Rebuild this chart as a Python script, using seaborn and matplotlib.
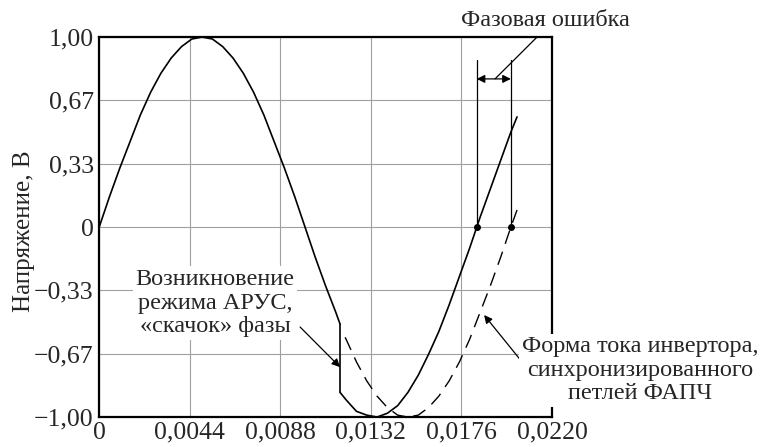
import matplotlib
matplotlib.use("Agg")
import matplotlib.pyplot as plt
import seaborn as sns

# values (time in s, voltage in V)
t_before = [0.0, 0.0005, 0.0010, 0.0015, 0.0020, 0.0025, 0.0030, 0.0035, 0.0040, 0.0045,
            0.0050, 0.0055, 0.0060, 0.0065, 0.0070, 0.0075, 0.0080, 0.0085, 0.0090, 0.0095,
            0.0100, 0.0105, 0.0110, 0.0115, 0.0117]
v_before = [0.0, 0.16, 0.31, 0.45, 0.59, 0.71, 0.81, 0.89, 0.95, 0.99,
            1.00, 0.99, 0.95, 0.89, 0.81, 0.71, 0.59, 0.45, 0.31, 0.16,
            0.0, -0.16, -0.31, -0.45, -0.51]
t_after = [0.0117, 0.0120, 0.0125, 0.0130, 0.0135, 0.0140, 0.0145, 0.0150, 0.0155, 0.0160,
           0.0165, 0.0170, 0.0175, 0.0180, 0.0185, 0.0190, 0.0195, 0.0200, 0.0203]
v_after = [-0.87, -0.91, -0.97, -0.99, -1.00, -0.98, -0.94, -0.87, -0.78, -0.67,
           -0.55, -0.41, -0.26, -0.11, 0.05, 0.20, 0.35, 0.50, 0.58]
t_pll = [0.01195, 0.0125, 0.0130, 0.0135, 0.0140, 0.0145, 0.0150, 0.0155, 0.0160, 0.0165,
         0.0170, 0.0175, 0.0180, 0.0185, 0.0190, 0.0195, 0.0200, 0.0203]
v_pll = [-0.58, -0.71, -0.81, -0.89, -0.95, -0.99, -1.00, -0.99, -0.95, -0.89,
         -0.81, -0.71, -0.59, -0.45, -0.31, -0.16, 0.0, 0.09]

x_ticks = [0, 0.0044, 0.0088, 0.0132, 0.0176, 0.0220]
x_labels = ["0", "0,0044", "0,0088", "0,0132", "0,0176", "0,0220"]
y_ticks = [-1.0, -2 / 3, -1 / 3, 0, 1 / 3, 2 / 3, 1.0]
y_labels = ["\u22121,00", "\u22120,67", "\u22120,33", "0", "0,33", "0,67", "1,00"]

t_zero_solid = 0.01834   # zero crossing of the shifted voltage
t_zero_pll = 0.0200      # zero crossing of the PLL current

sns.set_style("white")
plt.rcParams["font.family"] = ["Liberation Serif", "DejaVu Serif"]
plt.rcParams["font.size"] = 17.5

fig = plt.figure(figsize=(7.63, 4.47), dpi=100)
ax = fig.add_axes([0.130, 0.067, 0.5935, 0.850])

ax.grid(True, color="#a0a0a0", linewidth=0.8)
ax.set_axisbelow(True)

sns.lineplot(x=t_before, y=v_before, ax=ax, color="black", linewidth=1.2,
             estimator=None, sort=False)
sns.lineplot(x=[t_before[-1], t_after[0]], y=[v_before[-1], v_after[0]], ax=ax,
             color="black", linewidth=1.2, estimator=None, sort=False)
sns.lineplot(x=t_after, y=v_after, ax=ax, color="black", linewidth=1.2,
             estimator=None, sort=False)
sns.lineplot(x=t_pll, y=v_pll, ax=ax, color="black", linewidth=1.0,
             linestyle=(0, (10, 6)), estimator=None, sort=False)

ax.set_xlim(0, 0.022)
ax.set_ylim(-1, 1)
ax.set_xticks(x_ticks)
ax.set_xticklabels(x_labels)
ax.set_yticks(y_ticks)
ax.set_yticklabels(y_labels)
ax.tick_params(length=0, labelsize=18.5)
ax.tick_params(axis="x", pad=3.5)
ax.tick_params(axis="y", pad=4)
ax.set_ylabel("Напряжение, В", fontsize=18)
ax.yaxis.set_label_coords(-0.142, 0.49)
for s in ax.spines.values():
    s.set_linewidth(1.6)
    s.set_color("black")

# phase error marks
ax.plot([t_zero_solid, t_zero_pll], [0, 0], "o", color="black", markersize=4)
ax.plot([t_zero_solid, t_zero_solid], [0, 0.88], color="black", linewidth=0.9)
ax.plot([t_zero_pll, t_zero_pll], [0.0, 0.88], color="black", linewidth=0.9)
ax.annotate("", xy=(t_zero_solid, 0.78), xytext=(t_zero_pll, 0.78),
            arrowprops=dict(arrowstyle="<|-|>", color="black", lw=0.9,
                            mutation_scale=12, shrinkA=0, shrinkB=0))
ax.annotate("", xy=(0.01923, 0.78), xytext=(0.02127, 1.0),
            arrowprops=dict(arrowstyle="-", color="black", lw=0.9,
                            shrinkA=0, shrinkB=0))
ax.text(0.02166, 1.09, "Фазовая ошибка", ha="center", va="center", fontsize=17.5)

# phase jump note
ax.text(0.00563, -0.40, "Возникновение\nрежима АРУС,\n«скачок» фазы",
        ha="center", va="center", fontsize=17.5, linespacing=1.15,
        bbox=dict(facecolor="white", edgecolor="none", pad=2))
ax.annotate("", xy=(0.0117, -0.737), xytext=(0.00976, -0.526),
            arrowprops=dict(arrowstyle="-|>", color="black", lw=0.9,
                            mutation_scale=12, shrinkA=0, shrinkB=0))

# PLL current note
ax.text(0.02627, -0.753, "Форма тока инвертора,\nсинхронизированного\nпетлей ФАПЧ",
        ha="center", va="center", fontsize=17.5, linespacing=1.15, clip_on=False,
        bbox=dict(facecolor="white", edgecolor="none", pad=2), zorder=5)
ax.annotate("", xy=(0.0187, -0.463), xytext=(0.02059, -0.716),
            arrowprops=dict(arrowstyle="-|>", color="black", lw=0.9,
                            mutation_scale=12, shrinkA=0, shrinkB=0))

fig.savefig("out.png", dpi=100)
